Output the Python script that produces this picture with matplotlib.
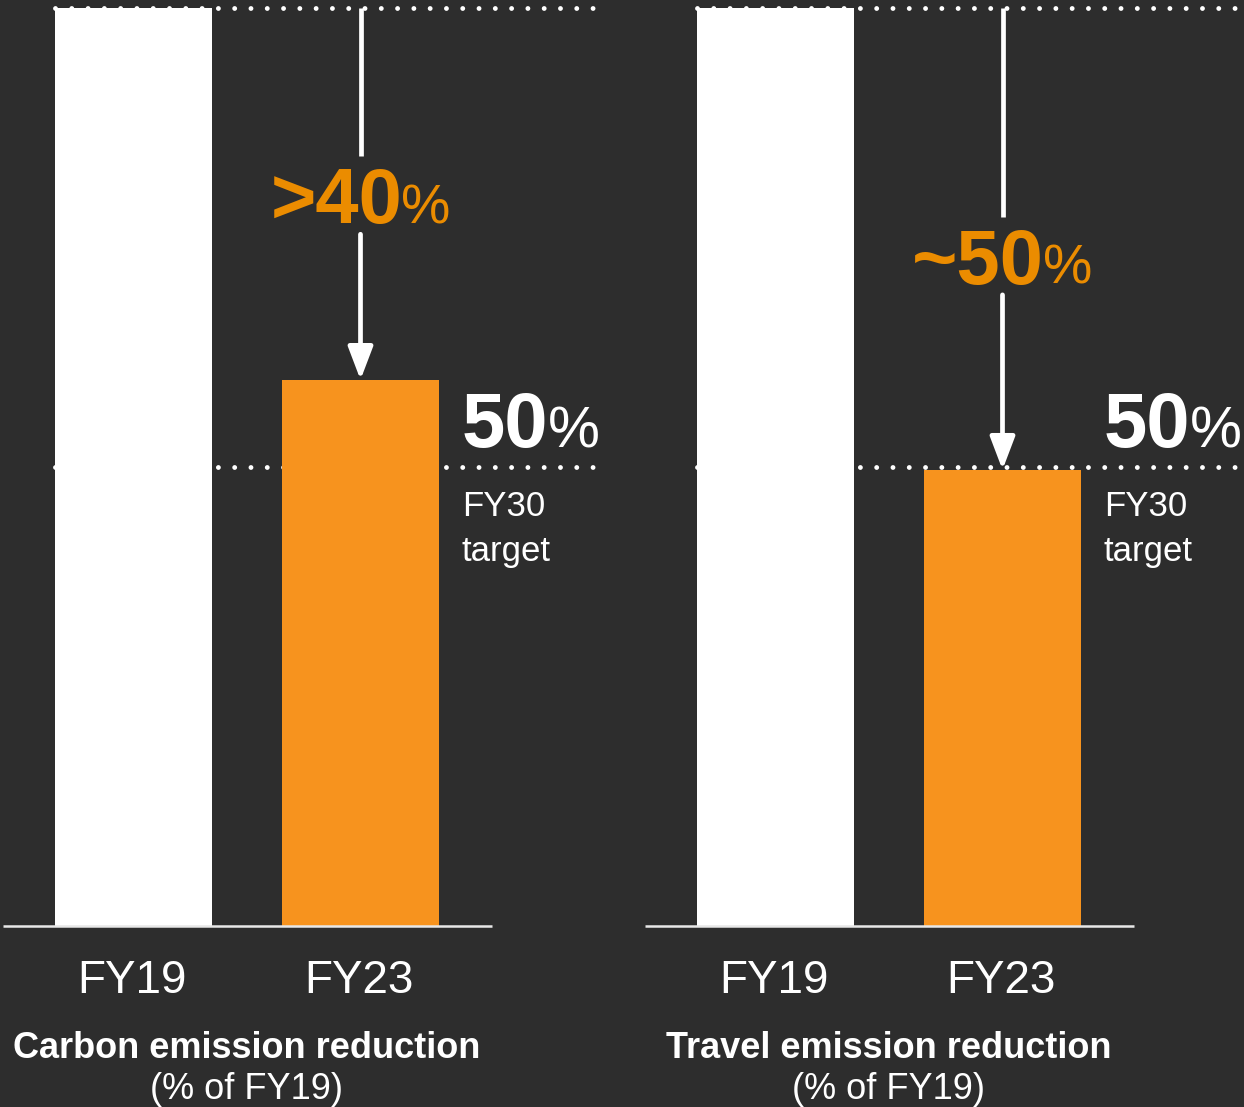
import matplotlib
matplotlib.use("Agg")
import matplotlib.pyplot as plt

# ---- data -------------------------------------------------------------
categories = ["FY19", "FY23"]
panel_titles = ["Carbon emission reduction", "Travel emission reduction"]
panel_subtitle = "(% of FY19)"
carbon_values = [100, 59.5]      # % of FY19 level
travel_values = [100, 49.7]      # % of FY19 level
target_value = 50                # FY30 target, % of FY19
reduction_labels = [">40", "~50"]
target_label = "50"
target_caption = ["FY30", "target"]

# ---- style ------------------------------------------------------------
BG = "#2d2d2d"
ORANGE = "#F7931E"
ORANGE_TEXT = "#EB8C00"
WHITE = "#ffffff"
FONT = "Liberation Sans"

PX_X = 227.0    # pixels per x unit (bar spacing)
PX_Y = 9.18     # pixels per percentage point

fig = plt.figure(figsize=(12.44, 11.07), dpi=100)
fig.patch.set_facecolor(BG)
ax = fig.add_axes([0, 0, 1, 1])
ax.set_facecolor(BG)
ax.set_axis_off()
ax.set_xlim(-133.5 / PX_X, (1244 - 133.5) / PX_X)
ax.set_ylim(-181 / PX_Y, 926 / PX_Y)

panels = [carbon_values, travel_values]
offsets = [0.0, 642 / PX_X]
bar_w = 157 / PX_X
dot_right = [(606 - 133.5) / PX_X, 5.0]
label_center = [79.6, 73.0]
gap_half = 39 / PX_Y
dot_style = dict(color=WHITE, lw=3.5, linestyle=(0, (0.001, 3.35)),
                 dash_capstyle="round", zorder=1)

pairs = []
for i, vals in enumerate(panels):
    off = offsets[i]
    xs = [off + k for k in range(len(categories))]

    # reference lines: FY19 level and FY30 target
    ax.plot([off - bar_w / 2, dot_right[i]], [100, 100], **dot_style)
    ax.plot([off - bar_w / 2, dot_right[i]], [target_value, target_value], **dot_style)

    ax.bar(xs, vals, width=bar_w, color=[WHITE, ORANGE], zorder=2)
    ax.plot([off - 0.575, off + 1.578], [0, 0], color="#e8e8e8", lw=1.8,
            solid_capstyle="butt", zorder=3)

    for x, c in zip(xs, categories):
        ax.text(x - 2 / PX_X, -67 / PX_Y, c, fontsize=33, color=WHITE, ha="center",
                va="baseline", family=FONT)

    ax.text(off + 0.5, -132 / PX_Y, panel_titles[i], fontsize=26,
            fontweight="bold", color=WHITE, ha="center", va="baseline", family=FONT)
    ax.text(off + 0.5, -173 / PX_Y, panel_subtitle, fontsize=26, color=WHITE,
            ha="center", va="baseline", family=FONT)

    # reduction arrow from FY19 level down to FY23 bar, broken by its label
    xa = xs[1]
    yc = label_center[i]
    ax.plot([xa, xa], [100, yc + gap_half], color=WHITE, lw=3.4,
            solid_capstyle="butt", zorder=4)
    ax.annotate("", xy=(xa, vals[1]), xytext=(xa, yc - gap_half),
                arrowprops=dict(arrowstyle="-|>,head_length=1.0,head_width=0.38",
                                color=WHITE, lw=3.4, mutation_scale=20,
                                shrinkA=0, shrinkB=0), zorder=4)
    t1 = ax.text(xa, yc - 28 / PX_Y, reduction_labels[i], fontsize=56,
                 fontweight="bold", color=ORANGE_TEXT, ha="left", va="baseline",
                 family=FONT, zorder=5)
    t2 = ax.text(xa, yc - 28 / PX_Y, "%", fontsize=40, color=ORANGE_TEXT,
                 ha="left", va="baseline", family=FONT, zorder=5)
    pairs.append((t1, t2, xa, "center"))

    # target label next to the FY23 bar
    xl = xs[1] + bar_w / 2 + 23 / PX_X
    t3 = ax.text(xl, target_value + 20 / PX_Y, target_label, fontsize=56,
                 fontweight="bold", color=WHITE, ha="left", va="baseline",
                 family=FONT, zorder=5)
    t4 = ax.text(xl, target_value + 20 / PX_Y, "%", fontsize=42, color=WHITE,
                 ha="left", va="baseline", family=FONT, zorder=5)
    pairs.append((t3, t4, xl, "left"))
    ax.text(xl, target_value - 49 / PX_Y, target_caption[0], fontsize=25,
            color=WHITE, ha="left", va="baseline", family=FONT)
    ax.text(xl, target_value - 94 / PX_Y, target_caption[1], fontsize=25,
            color=WHITE, ha="left", va="baseline", family=FONT)

# place the smaller "%" right after each big number
fig.canvas.draw()
r = fig.canvas.get_renderer()
gap = -1
for big, small, x, mode in pairs:
    w1 = big.get_window_extent(r).width
    w2 = small.get_window_extent(r).width
    if mode == "center":
        left = x - (w1 + gap + w2) / 2 / PX_X
    else:
        left = x
    big.set_x(left)
    small.set_x(left + (w1 + gap) / PX_X)

fig.savefig("out.png", dpi=100, facecolor=BG)
